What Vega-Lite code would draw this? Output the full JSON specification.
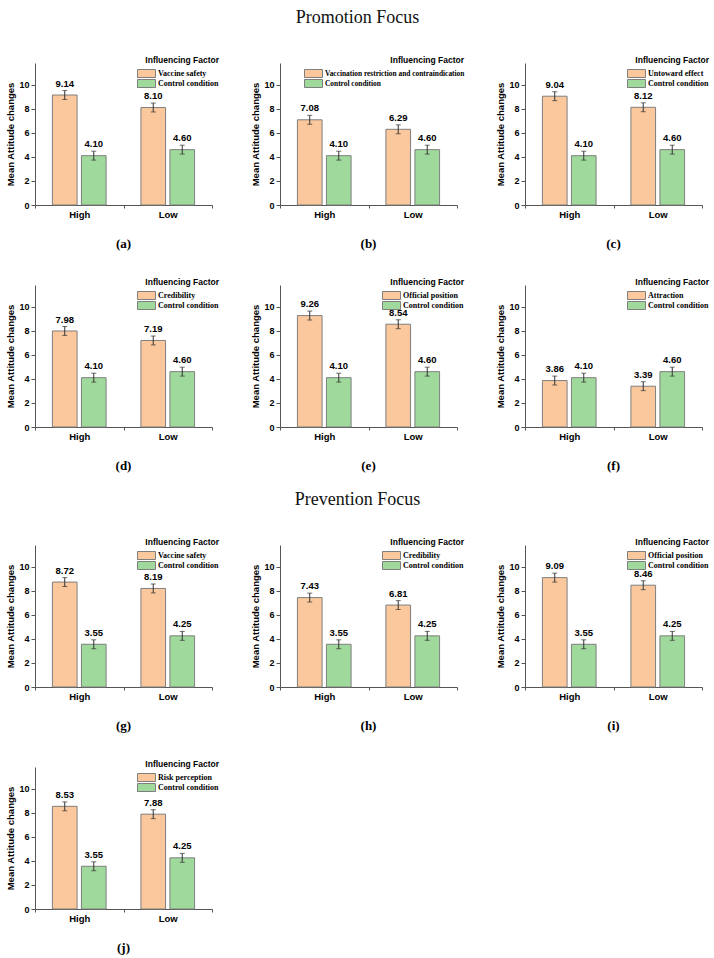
{
  "$schema": "https://vega.github.io/schema/vega-lite/v6.json",
  "padding": {"left": 5, "top": 9, "right": 2, "bottom": 2},
  "background": "white",
  "data": {"values": [
    {"panel":"a","level":"High","type":"factor","condition":"Vaccine safety","value":9.14,"lo":8.77,"hi":9.51},
    {"panel":"a","level":"High","type":"control","condition":"Control condition","value":4.10,"lo":3.73,"hi":4.47},
    {"panel":"a","level":"Low","type":"factor","condition":"Vaccine safety","value":8.10,"lo":7.73,"hi":8.47},
    {"panel":"a","level":"Low","type":"control","condition":"Control condition","value":4.60,"lo":4.23,"hi":4.97},
    {"panel":"b","level":"High","type":"factor","condition":"Vaccination restriction and contraindication","value":7.08,"lo":6.71,"hi":7.45},
    {"panel":"b","level":"High","type":"control","condition":"Control condition","value":4.10,"lo":3.73,"hi":4.47},
    {"panel":"b","level":"Low","type":"factor","condition":"Vaccination restriction and contraindication","value":6.29,"lo":5.92,"hi":6.66},
    {"panel":"b","level":"Low","type":"control","condition":"Control condition","value":4.60,"lo":4.23,"hi":4.97},
    {"panel":"c","level":"High","type":"factor","condition":"Untoward effect","value":9.04,"lo":8.67,"hi":9.41},
    {"panel":"c","level":"High","type":"control","condition":"Control condition","value":4.10,"lo":3.73,"hi":4.47},
    {"panel":"c","level":"Low","type":"factor","condition":"Untoward effect","value":8.12,"lo":7.75,"hi":8.49},
    {"panel":"c","level":"Low","type":"control","condition":"Control condition","value":4.60,"lo":4.23,"hi":4.97},
    {"panel":"d","level":"High","type":"factor","condition":"Credibility","value":7.98,"lo":7.61,"hi":8.35},
    {"panel":"d","level":"High","type":"control","condition":"Control condition","value":4.10,"lo":3.73,"hi":4.47},
    {"panel":"d","level":"Low","type":"factor","condition":"Credibility","value":7.19,"lo":6.82,"hi":7.56},
    {"panel":"d","level":"Low","type":"control","condition":"Control condition","value":4.60,"lo":4.23,"hi":4.97},
    {"panel":"e","level":"High","type":"factor","condition":"Official position","value":9.26,"lo":8.89,"hi":9.63},
    {"panel":"e","level":"High","type":"control","condition":"Control condition","value":4.10,"lo":3.73,"hi":4.47},
    {"panel":"e","level":"Low","type":"factor","condition":"Official position","value":8.54,"lo":8.17,"hi":8.91},
    {"panel":"e","level":"Low","type":"control","condition":"Control condition","value":4.60,"lo":4.23,"hi":4.97},
    {"panel":"f","level":"High","type":"factor","condition":"Attraction","value":3.86,"lo":3.49,"hi":4.23},
    {"panel":"f","level":"High","type":"control","condition":"Control condition","value":4.10,"lo":3.73,"hi":4.47},
    {"panel":"f","level":"Low","type":"factor","condition":"Attraction","value":3.39,"lo":3.02,"hi":3.76},
    {"panel":"f","level":"Low","type":"control","condition":"Control condition","value":4.60,"lo":4.23,"hi":4.97},
    {"panel":"g","level":"High","type":"factor","condition":"Vaccine safety","value":8.72,"lo":8.35,"hi":9.09},
    {"panel":"g","level":"High","type":"control","condition":"Control condition","value":3.55,"lo":3.18,"hi":3.92},
    {"panel":"g","level":"Low","type":"factor","condition":"Vaccine safety","value":8.19,"lo":7.82,"hi":8.56},
    {"panel":"g","level":"Low","type":"control","condition":"Control condition","value":4.25,"lo":3.88,"hi":4.62},
    {"panel":"h","level":"High","type":"factor","condition":"Credibility","value":7.43,"lo":7.06,"hi":7.80},
    {"panel":"h","level":"High","type":"control","condition":"Control condition","value":3.55,"lo":3.18,"hi":3.92},
    {"panel":"h","level":"Low","type":"factor","condition":"Credibility","value":6.81,"lo":6.44,"hi":7.18},
    {"panel":"h","level":"Low","type":"control","condition":"Control condition","value":4.25,"lo":3.88,"hi":4.62},
    {"panel":"i","level":"High","type":"factor","condition":"Official position","value":9.09,"lo":8.72,"hi":9.46},
    {"panel":"i","level":"High","type":"control","condition":"Control condition","value":3.55,"lo":3.18,"hi":3.92},
    {"panel":"i","level":"Low","type":"factor","condition":"Official position","value":8.46,"lo":8.09,"hi":8.83},
    {"panel":"i","level":"Low","type":"control","condition":"Control condition","value":4.25,"lo":3.88,"hi":4.62},
    {"panel":"j","level":"High","type":"factor","condition":"Risk perception","value":8.53,"lo":8.16,"hi":8.90},
    {"panel":"j","level":"High","type":"control","condition":"Control condition","value":3.55,"lo":3.18,"hi":3.92},
    {"panel":"j","level":"Low","type":"factor","condition":"Risk perception","value":7.88,"lo":7.51,"hi":8.25},
    {"panel":"j","level":"Low","type":"control","condition":"Control condition","value":4.25,"lo":3.88,"hi":4.62}
  ]},
  "config": {
    "view": {"stroke": null},
    "axis": {"labelFont": "Liberation Sans", "labelFontWeight": "bold", "labelFontSize": 9, "labelColor": "#000",
             "titleFont": "Liberation Sans", "titleFontWeight": "bold", "titleFontSize": 9.5, "titleColor": "#000",
             "domainColor": "#555", "tickColor": "#555", "grid": false},
    "axisX": {"labelAngle": 0, "tickBand": "extent", "tickSize": 3, "labelPadding": 1, "labelFontSize": 9.5, "title": null},
    "axisY": {"values": [0,2,4,6,8,10], "tickSize": 4, "labelPadding": 2, "titlePadding": 3},
    "legend": {"orient": "none", "padding": 0,
               "titleFont": "Liberation Sans", "titleFontWeight": "bold", "titleFontSize": 8.5, "titleColor": "#000",
               "titleAnchor": "end", "titleAlign": "right", "titlePadding": 4,
               "labelFont": "Liberation Serif", "labelFontWeight": "bold", "labelFontSize": 8, "labelColor": "#000",
               "symbolType": "M-1,-1H3.5V1H-1Z", "symbolSize": 64, "symbolStrokeColor": "#7f7f7f", "symbolStrokeWidth": 1,
               "labelOffset": 12, "rowPadding": 0, "clipHeight": 10},
    "text": {"font": "Liberation Sans", "fontWeight": "bold", "fontSize": 9.5, "color": "#000"}
  },
  "vconcat": [
    {
      "title": {"text": "Promotion Focus", "font": "Liberation Serif", "fontSize": 18, "fontWeight": "normal", "color": "#111", "anchor": "middle", "frame": "bounds", "offset": 29},
      "columns": 3,
      "bounds": "flush",
      "spacing": {"row": 80, "column": 68},
      "resolve": {"scale": {"color": "independent", "x": "independent", "y": "independent", "xOffset": "independent"}, "legend": {"color": "independent"}},
      "concat": [
            {"width": 177, "height": 142,
             "title": {"text": "(a)", "orient": "bottom", "font": "Liberation Serif", "fontSize": 13, "fontWeight": "bold", "anchor": "middle", "offset": 19},
             "transform": [{"filter": "datum.panel == 'a'"}],
             "encoding": {"x": {"field": "level", "type": "nominal", "scale": {"paddingInner": 0, "paddingOuter": 0}},
                          "xOffset": {"field": "type", "type": "nominal", "scale": {"domain": ["factor","control"], "paddingInner": 0.15, "paddingOuter": 0.6}}},
             "layer": [
               {"mark": {"type": "bar", "stroke": "#7f7f7f", "strokeWidth": 1},
                "encoding": {"y": {"field": "value", "type": "quantitative", "title": "Mean Attitude changes", "scale": {"domain": [0, 11.8], "nice": false}},
                             "color": {"field": "condition", "type": "nominal", "scale": {"domain": ["Vaccine safety","Control condition"], "range": ["#FAC89C","#9FD99B"]}, "legend": {"title": "Influencing Factor", "legendX": 102, "legendY": -7}}}},
               {"mark": {"type": "rule", "color": "#333", "strokeWidth": 1}, "encoding": {"y": {"field": "lo", "type": "quantitative", "title": "Mean Attitude changes"}, "y2": {"field": "hi"}}},
               {"mark": {"type": "tick", "color": "#333", "thickness": 1, "size": 5}, "encoding": {"y": {"field": "lo", "type": "quantitative", "title": "Mean Attitude changes"}}},
               {"mark": {"type": "tick", "color": "#333", "thickness": 1, "size": 5}, "encoding": {"y": {"field": "hi", "type": "quantitative", "title": "Mean Attitude changes"}}},
               {"mark": {"type": "text", "baseline": "bottom", "dy": -2}, "encoding": {"y": {"field": "hi", "type": "quantitative", "title": "Mean Attitude changes"}, "text": {"field": "value", "type": "quantitative", "format": ".2f"}}}
             ]},
            {"width": 177, "height": 142,
             "title": {"text": "(b)", "orient": "bottom", "font": "Liberation Serif", "fontSize": 13, "fontWeight": "bold", "anchor": "middle", "offset": 19},
             "transform": [{"filter": "datum.panel == 'b'"}],
             "encoding": {"x": {"field": "level", "type": "nominal", "scale": {"paddingInner": 0, "paddingOuter": 0}},
                          "xOffset": {"field": "type", "type": "nominal", "scale": {"domain": ["factor","control"], "paddingInner": 0.15, "paddingOuter": 0.6}}},
             "layer": [
               {"mark": {"type": "bar", "stroke": "#7f7f7f", "strokeWidth": 1},
                "encoding": {"y": {"field": "value", "type": "quantitative", "title": "Mean Attitude changes", "scale": {"domain": [0, 11.8], "nice": false}},
                             "color": {"field": "condition", "type": "nominal", "scale": {"domain": ["Vaccination restriction and contraindication","Control condition"], "range": ["#FAC89C","#9FD99B"]}, "legend": {"title": "Influencing Factor", "legendX": 24, "legendY": -7, "labelFontSize": 7.4}}}},
               {"mark": {"type": "rule", "color": "#333", "strokeWidth": 1}, "encoding": {"y": {"field": "lo", "type": "quantitative", "title": "Mean Attitude changes"}, "y2": {"field": "hi"}}},
               {"mark": {"type": "tick", "color": "#333", "thickness": 1, "size": 5}, "encoding": {"y": {"field": "lo", "type": "quantitative", "title": "Mean Attitude changes"}}},
               {"mark": {"type": "tick", "color": "#333", "thickness": 1, "size": 5}, "encoding": {"y": {"field": "hi", "type": "quantitative", "title": "Mean Attitude changes"}}},
               {"mark": {"type": "text", "baseline": "bottom", "dy": -2}, "encoding": {"y": {"field": "hi", "type": "quantitative", "title": "Mean Attitude changes"}, "text": {"field": "value", "type": "quantitative", "format": ".2f"}}}
             ]},
            {"width": 177, "height": 142,
             "title": {"text": "(c)", "orient": "bottom", "font": "Liberation Serif", "fontSize": 13, "fontWeight": "bold", "anchor": "middle", "offset": 19},
             "transform": [{"filter": "datum.panel == 'c'"}],
             "encoding": {"x": {"field": "level", "type": "nominal", "scale": {"paddingInner": 0, "paddingOuter": 0}},
                          "xOffset": {"field": "type", "type": "nominal", "scale": {"domain": ["factor","control"], "paddingInner": 0.15, "paddingOuter": 0.6}}},
             "layer": [
               {"mark": {"type": "bar", "stroke": "#7f7f7f", "strokeWidth": 1},
                "encoding": {"y": {"field": "value", "type": "quantitative", "title": "Mean Attitude changes", "scale": {"domain": [0, 11.8], "nice": false}},
                             "color": {"field": "condition", "type": "nominal", "scale": {"domain": ["Untoward effect","Control condition"], "range": ["#FAC89C","#9FD99B"]}, "legend": {"title": "Influencing Factor", "legendX": 102, "legendY": -7}}}},
               {"mark": {"type": "rule", "color": "#333", "strokeWidth": 1}, "encoding": {"y": {"field": "lo", "type": "quantitative", "title": "Mean Attitude changes"}, "y2": {"field": "hi"}}},
               {"mark": {"type": "tick", "color": "#333", "thickness": 1, "size": 5}, "encoding": {"y": {"field": "lo", "type": "quantitative", "title": "Mean Attitude changes"}}},
               {"mark": {"type": "tick", "color": "#333", "thickness": 1, "size": 5}, "encoding": {"y": {"field": "hi", "type": "quantitative", "title": "Mean Attitude changes"}}},
               {"mark": {"type": "text", "baseline": "bottom", "dy": -2}, "encoding": {"y": {"field": "hi", "type": "quantitative", "title": "Mean Attitude changes"}, "text": {"field": "value", "type": "quantitative", "format": ".2f"}}}
             ]},
            {"width": 177, "height": 142,
             "title": {"text": "(d)", "orient": "bottom", "font": "Liberation Serif", "fontSize": 13, "fontWeight": "bold", "anchor": "middle", "offset": 19},
             "transform": [{"filter": "datum.panel == 'd'"}],
             "encoding": {"x": {"field": "level", "type": "nominal", "scale": {"paddingInner": 0, "paddingOuter": 0}},
                          "xOffset": {"field": "type", "type": "nominal", "scale": {"domain": ["factor","control"], "paddingInner": 0.15, "paddingOuter": 0.6}}},
             "layer": [
               {"mark": {"type": "bar", "stroke": "#7f7f7f", "strokeWidth": 1},
                "encoding": {"y": {"field": "value", "type": "quantitative", "title": "Mean Attitude changes", "scale": {"domain": [0, 11.8], "nice": false}},
                             "color": {"field": "condition", "type": "nominal", "scale": {"domain": ["Credibility","Control condition"], "range": ["#FAC89C","#9FD99B"]}, "legend": {"title": "Influencing Factor", "legendX": 102, "legendY": -7}}}},
               {"mark": {"type": "rule", "color": "#333", "strokeWidth": 1}, "encoding": {"y": {"field": "lo", "type": "quantitative", "title": "Mean Attitude changes"}, "y2": {"field": "hi"}}},
               {"mark": {"type": "tick", "color": "#333", "thickness": 1, "size": 5}, "encoding": {"y": {"field": "lo", "type": "quantitative", "title": "Mean Attitude changes"}}},
               {"mark": {"type": "tick", "color": "#333", "thickness": 1, "size": 5}, "encoding": {"y": {"field": "hi", "type": "quantitative", "title": "Mean Attitude changes"}}},
               {"mark": {"type": "text", "baseline": "bottom", "dy": -2}, "encoding": {"y": {"field": "hi", "type": "quantitative", "title": "Mean Attitude changes"}, "text": {"field": "value", "type": "quantitative", "format": ".2f"}}}
             ]},
            {"width": 177, "height": 142,
             "title": {"text": "(e)", "orient": "bottom", "font": "Liberation Serif", "fontSize": 13, "fontWeight": "bold", "anchor": "middle", "offset": 19},
             "transform": [{"filter": "datum.panel == 'e'"}],
             "encoding": {"x": {"field": "level", "type": "nominal", "scale": {"paddingInner": 0, "paddingOuter": 0}},
                          "xOffset": {"field": "type", "type": "nominal", "scale": {"domain": ["factor","control"], "paddingInner": 0.15, "paddingOuter": 0.6}}},
             "layer": [
               {"mark": {"type": "bar", "stroke": "#7f7f7f", "strokeWidth": 1},
                "encoding": {"y": {"field": "value", "type": "quantitative", "title": "Mean Attitude changes", "scale": {"domain": [0, 11.8], "nice": false}},
                             "color": {"field": "condition", "type": "nominal", "scale": {"domain": ["Official position","Control condition"], "range": ["#FAC89C","#9FD99B"]}, "legend": {"title": "Influencing Factor", "legendX": 102, "legendY": -7}}}},
               {"mark": {"type": "rule", "color": "#333", "strokeWidth": 1}, "encoding": {"y": {"field": "lo", "type": "quantitative", "title": "Mean Attitude changes"}, "y2": {"field": "hi"}}},
               {"mark": {"type": "tick", "color": "#333", "thickness": 1, "size": 5}, "encoding": {"y": {"field": "lo", "type": "quantitative", "title": "Mean Attitude changes"}}},
               {"mark": {"type": "tick", "color": "#333", "thickness": 1, "size": 5}, "encoding": {"y": {"field": "hi", "type": "quantitative", "title": "Mean Attitude changes"}}},
               {"mark": {"type": "text", "baseline": "bottom", "dy": -2}, "encoding": {"y": {"field": "hi", "type": "quantitative", "title": "Mean Attitude changes"}, "text": {"field": "value", "type": "quantitative", "format": ".2f"}}}
             ]},
            {"width": 177, "height": 142,
             "title": {"text": "(f)", "orient": "bottom", "font": "Liberation Serif", "fontSize": 13, "fontWeight": "bold", "anchor": "middle", "offset": 19},
             "transform": [{"filter": "datum.panel == 'f'"}],
             "encoding": {"x": {"field": "level", "type": "nominal", "scale": {"paddingInner": 0, "paddingOuter": 0}},
                          "xOffset": {"field": "type", "type": "nominal", "scale": {"domain": ["factor","control"], "paddingInner": 0.15, "paddingOuter": 0.6}}},
             "layer": [
               {"mark": {"type": "bar", "stroke": "#7f7f7f", "strokeWidth": 1},
                "encoding": {"y": {"field": "value", "type": "quantitative", "title": "Mean Attitude changes", "scale": {"domain": [0, 11.8], "nice": false}},
                             "color": {"field": "condition", "type": "nominal", "scale": {"domain": ["Attraction","Control condition"], "range": ["#FAC89C","#9FD99B"]}, "legend": {"title": "Influencing Factor", "legendX": 102, "legendY": -7}}}},
               {"mark": {"type": "rule", "color": "#333", "strokeWidth": 1}, "encoding": {"y": {"field": "lo", "type": "quantitative", "title": "Mean Attitude changes"}, "y2": {"field": "hi"}}},
               {"mark": {"type": "tick", "color": "#333", "thickness": 1, "size": 5}, "encoding": {"y": {"field": "lo", "type": "quantitative", "title": "Mean Attitude changes"}}},
               {"mark": {"type": "tick", "color": "#333", "thickness": 1, "size": 5}, "encoding": {"y": {"field": "hi", "type": "quantitative", "title": "Mean Attitude changes"}}},
               {"mark": {"type": "text", "baseline": "bottom", "dy": -2}, "encoding": {"y": {"field": "hi", "type": "quantitative", "title": "Mean Attitude changes"}, "text": {"field": "value", "type": "quantitative", "format": ".2f"}}}
             ]}
      ]
    },
    {
      "title": {"text": "Prevention Focus", "font": "Liberation Serif", "fontSize": 18, "fontWeight": "normal", "color": "#111", "anchor": "middle", "frame": "bounds", "offset": 29},
      "columns": 3,
      "bounds": "flush",
      "spacing": {"row": 80, "column": 68},
      "resolve": {"scale": {"color": "independent", "x": "independent", "y": "independent", "xOffset": "independent"}, "legend": {"color": "independent"}},
      "concat": [
            {"width": 177, "height": 142,
             "title": {"text": "(g)", "orient": "bottom", "font": "Liberation Serif", "fontSize": 13, "fontWeight": "bold", "anchor": "middle", "offset": 19},
             "transform": [{"filter": "datum.panel == 'g'"}],
             "encoding": {"x": {"field": "level", "type": "nominal", "scale": {"paddingInner": 0, "paddingOuter": 0}},
                          "xOffset": {"field": "type", "type": "nominal", "scale": {"domain": ["factor","control"], "paddingInner": 0.15, "paddingOuter": 0.6}}},
             "layer": [
               {"mark": {"type": "bar", "stroke": "#7f7f7f", "strokeWidth": 1},
                "encoding": {"y": {"field": "value", "type": "quantitative", "title": "Mean Attitude changes", "scale": {"domain": [0, 11.8], "nice": false}},
                             "color": {"field": "condition", "type": "nominal", "scale": {"domain": ["Vaccine safety","Control condition"], "range": ["#FAC89C","#9FD99B"]}, "legend": {"title": "Influencing Factor", "legendX": 102, "legendY": -7}}}},
               {"mark": {"type": "rule", "color": "#333", "strokeWidth": 1}, "encoding": {"y": {"field": "lo", "type": "quantitative", "title": "Mean Attitude changes"}, "y2": {"field": "hi"}}},
               {"mark": {"type": "tick", "color": "#333", "thickness": 1, "size": 5}, "encoding": {"y": {"field": "lo", "type": "quantitative", "title": "Mean Attitude changes"}}},
               {"mark": {"type": "tick", "color": "#333", "thickness": 1, "size": 5}, "encoding": {"y": {"field": "hi", "type": "quantitative", "title": "Mean Attitude changes"}}},
               {"mark": {"type": "text", "baseline": "bottom", "dy": -2}, "encoding": {"y": {"field": "hi", "type": "quantitative", "title": "Mean Attitude changes"}, "text": {"field": "value", "type": "quantitative", "format": ".2f"}}}
             ]},
            {"width": 177, "height": 142,
             "title": {"text": "(h)", "orient": "bottom", "font": "Liberation Serif", "fontSize": 13, "fontWeight": "bold", "anchor": "middle", "offset": 19},
             "transform": [{"filter": "datum.panel == 'h'"}],
             "encoding": {"x": {"field": "level", "type": "nominal", "scale": {"paddingInner": 0, "paddingOuter": 0}},
                          "xOffset": {"field": "type", "type": "nominal", "scale": {"domain": ["factor","control"], "paddingInner": 0.15, "paddingOuter": 0.6}}},
             "layer": [
               {"mark": {"type": "bar", "stroke": "#7f7f7f", "strokeWidth": 1},
                "encoding": {"y": {"field": "value", "type": "quantitative", "title": "Mean Attitude changes", "scale": {"domain": [0, 11.8], "nice": false}},
                             "color": {"field": "condition", "type": "nominal", "scale": {"domain": ["Credibility","Control condition"], "range": ["#FAC89C","#9FD99B"]}, "legend": {"title": "Influencing Factor", "legendX": 102, "legendY": -7}}}},
               {"mark": {"type": "rule", "color": "#333", "strokeWidth": 1}, "encoding": {"y": {"field": "lo", "type": "quantitative", "title": "Mean Attitude changes"}, "y2": {"field": "hi"}}},
               {"mark": {"type": "tick", "color": "#333", "thickness": 1, "size": 5}, "encoding": {"y": {"field": "lo", "type": "quantitative", "title": "Mean Attitude changes"}}},
               {"mark": {"type": "tick", "color": "#333", "thickness": 1, "size": 5}, "encoding": {"y": {"field": "hi", "type": "quantitative", "title": "Mean Attitude changes"}}},
               {"mark": {"type": "text", "baseline": "bottom", "dy": -2}, "encoding": {"y": {"field": "hi", "type": "quantitative", "title": "Mean Attitude changes"}, "text": {"field": "value", "type": "quantitative", "format": ".2f"}}}
             ]},
            {"width": 177, "height": 142,
             "title": {"text": "(i)", "orient": "bottom", "font": "Liberation Serif", "fontSize": 13, "fontWeight": "bold", "anchor": "middle", "offset": 19},
             "transform": [{"filter": "datum.panel == 'i'"}],
             "encoding": {"x": {"field": "level", "type": "nominal", "scale": {"paddingInner": 0, "paddingOuter": 0}},
                          "xOffset": {"field": "type", "type": "nominal", "scale": {"domain": ["factor","control"], "paddingInner": 0.15, "paddingOuter": 0.6}}},
             "layer": [
               {"mark": {"type": "bar", "stroke": "#7f7f7f", "strokeWidth": 1},
                "encoding": {"y": {"field": "value", "type": "quantitative", "title": "Mean Attitude changes", "scale": {"domain": [0, 11.8], "nice": false}},
                             "color": {"field": "condition", "type": "nominal", "scale": {"domain": ["Official position","Control condition"], "range": ["#FAC89C","#9FD99B"]}, "legend": {"title": "Influencing Factor", "legendX": 102, "legendY": -7}}}},
               {"mark": {"type": "rule", "color": "#333", "strokeWidth": 1}, "encoding": {"y": {"field": "lo", "type": "quantitative", "title": "Mean Attitude changes"}, "y2": {"field": "hi"}}},
               {"mark": {"type": "tick", "color": "#333", "thickness": 1, "size": 5}, "encoding": {"y": {"field": "lo", "type": "quantitative", "title": "Mean Attitude changes"}}},
               {"mark": {"type": "tick", "color": "#333", "thickness": 1, "size": 5}, "encoding": {"y": {"field": "hi", "type": "quantitative", "title": "Mean Attitude changes"}}},
               {"mark": {"type": "text", "baseline": "bottom", "dy": -2}, "encoding": {"y": {"field": "hi", "type": "quantitative", "title": "Mean Attitude changes"}, "text": {"field": "value", "type": "quantitative", "format": ".2f"}}}
             ]},
            {"width": 177, "height": 142,
             "title": {"text": "(j)", "orient": "bottom", "font": "Liberation Serif", "fontSize": 13, "fontWeight": "bold", "anchor": "middle", "offset": 19},
             "transform": [{"filter": "datum.panel == 'j'"}],
             "encoding": {"x": {"field": "level", "type": "nominal", "scale": {"paddingInner": 0, "paddingOuter": 0}},
                          "xOffset": {"field": "type", "type": "nominal", "scale": {"domain": ["factor","control"], "paddingInner": 0.15, "paddingOuter": 0.6}}},
             "layer": [
               {"mark": {"type": "bar", "stroke": "#7f7f7f", "strokeWidth": 1},
                "encoding": {"y": {"field": "value", "type": "quantitative", "title": "Mean Attitude changes", "scale": {"domain": [0, 11.8], "nice": false}},
                             "color": {"field": "condition", "type": "nominal", "scale": {"domain": ["Risk perception","Control condition"], "range": ["#FAC89C","#9FD99B"]}, "legend": {"title": "Influencing Factor", "legendX": 102, "legendY": -7}}}},
               {"mark": {"type": "rule", "color": "#333", "strokeWidth": 1}, "encoding": {"y": {"field": "lo", "type": "quantitative", "title": "Mean Attitude changes"}, "y2": {"field": "hi"}}},
               {"mark": {"type": "tick", "color": "#333", "thickness": 1, "size": 5}, "encoding": {"y": {"field": "lo", "type": "quantitative", "title": "Mean Attitude changes"}}},
               {"mark": {"type": "tick", "color": "#333", "thickness": 1, "size": 5}, "encoding": {"y": {"field": "hi", "type": "quantitative", "title": "Mean Attitude changes"}}},
               {"mark": {"type": "text", "baseline": "bottom", "dy": -2}, "encoding": {"y": {"field": "hi", "type": "quantitative", "title": "Mean Attitude changes"}, "text": {"field": "value", "type": "quantitative", "format": ".2f"}}}
             ]}
      ]
    }
  ],
  "spacing": 18,
  "resolve": {"scale": {"color": "independent", "x": "independent", "y": "independent", "xOffset": "independent"}, "legend": {"color": "independent"}}
}
